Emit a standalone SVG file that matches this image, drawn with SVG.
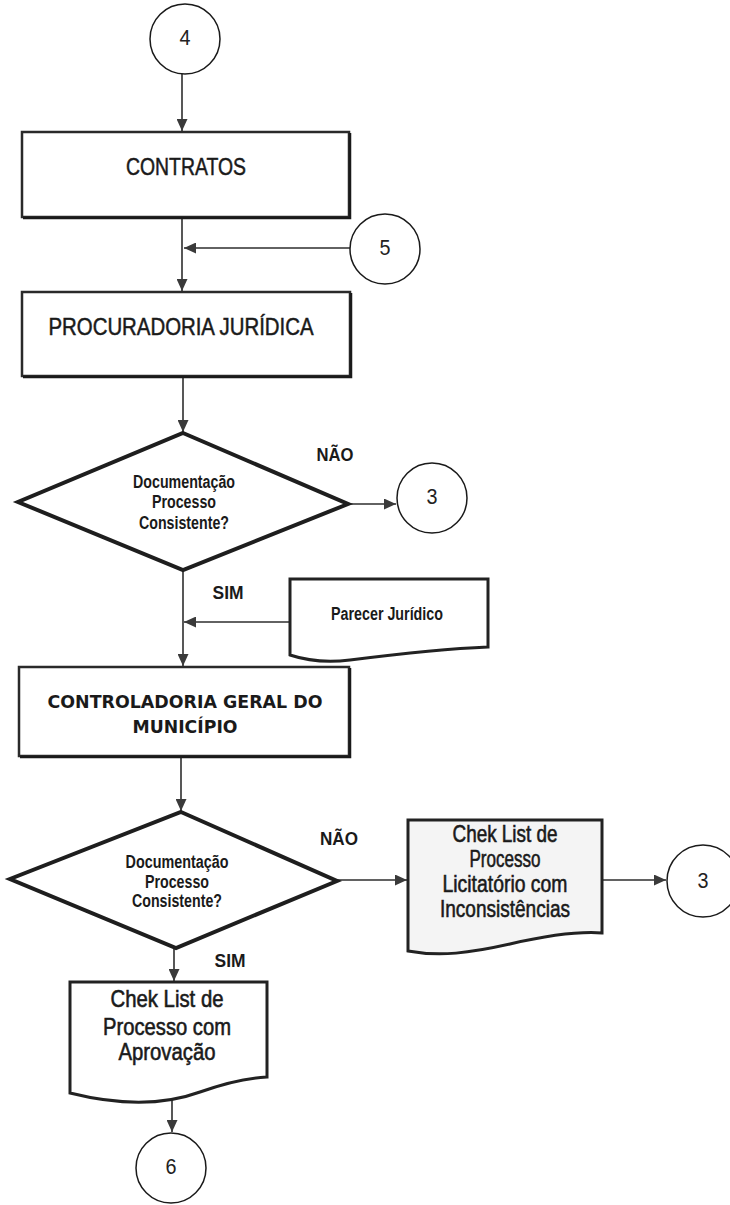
<svg xmlns="http://www.w3.org/2000/svg" width="730" height="1205" viewBox="0 0 730 1205">
  <defs>
    <marker id="arrow" markerUnits="userSpaceOnUse" markerWidth="13" markerHeight="11" refX="12" refY="5.5" orient="auto">
      <path d="M0,0 L12,5.5 L0,11 Z" fill="#3a3a3a"/>
    </marker>
    <style>
      .edge { fill: none; stroke: #2e2e2e; stroke-width: 1.6; marker-end: url(#arrow); }
      .box { fill: #ffffff; stroke: #2a2a2a; stroke-width: 2.5; }
      .shadow { fill: none; stroke: #1a1a1a; stroke-width: 2.5; }
      .doc { fill: #ffffff; stroke: #222222; stroke-width: 3; stroke-linejoin: miter; }
      .decision { fill: #ffffff; stroke: #1e1e1e; stroke-width: 4; stroke-linejoin: miter; }
      .conn { fill: #ffffff; stroke: #1a1a1a; stroke-width: 1.5; }
      .title { font-family: "Liberation Sans", Arial, sans-serif; font-size: 24px; fill: #1a1a1a; stroke: #1a1a1a; stroke-width: 0.5; text-anchor: middle; }
      .heavy { font-family: "DejaVu Sans", sans-serif; font-weight: bold; font-size: 17.4px; fill: #1a1a1a; text-anchor: middle; }
      .q { font-family: "Liberation Sans", Arial, sans-serif; font-weight: bold; font-size: 18px; fill: #1a1a1a; text-anchor: middle; }
      .docText { font-family: "Liberation Sans", Arial, sans-serif; font-size: 24px; fill: #1a1a1a; stroke: #1a1a1a; stroke-width: 0.6; text-anchor: middle; }
      .num { font-family: "Liberation Sans", Arial, sans-serif; font-size: 22px; fill: #222222; text-anchor: middle; }
    </style>
  </defs>

  <rect x="0" y="0" width="730" height="1205" fill="#ffffff"/>

  <!-- connectors -->
  <g id="connectors">
    <path class="edge" d="M182,74 L182,131"/>
    <path class="edge" d="M182,219 L182,291"/>
    <path class="edge" d="M350,248 L184,248"/>
    <path class="edge" d="M183,378 L183,432"/>
    <path class="edge" d="M348,504 L396,504"/>
    <path class="edge" d="M183,571 L183,666"/>
    <path class="edge" d="M290,622 L184,622"/>
    <path class="edge" d="M181,758 L181,811"/>
    <path class="edge" d="M337,880 L407,880"/>
    <path class="edge" d="M602,880 L666,880"/>
    <path class="edge" d="M174,949 L174,981"/>
    <path class="edge" d="M172,1098 L172,1132"/>
  </g>

  <!-- off-page connector 4 -->
  <g id="c4">
    <circle class="conn" cx="185" cy="39" r="35"/>
    <text class="num" x="185" y="45" textLength="11" lengthAdjust="spacingAndGlyphs">4</text>
  </g>

  <!-- CONTRATOS -->
  <g id="contratos">
    <rect class="box" x="22" y="132" width="327" height="85"/>
    <path class="shadow" d="M350,133 L350,218 L23,218"/>
    <text class="title" x="186" y="175" textLength="120" lengthAdjust="spacingAndGlyphs">CONTRATOS</text>
  </g>

  <!-- off-page connector 5 -->
  <g id="c5">
    <circle class="conn" cx="385" cy="249" r="35"/>
    <text class="num" x="385" y="255" textLength="11" lengthAdjust="spacingAndGlyphs">5</text>
  </g>

  <!-- PROCURADORIA JURÍDICA -->
  <g id="procuradoria">
    <rect class="box" x="22" y="292" width="328" height="84"/>
    <path class="shadow" d="M351,293 L351,377 L23,377"/>
    <text class="title" x="181" y="335" textLength="265" lengthAdjust="spacingAndGlyphs">PROCURADORIA JURÍDICA</text>
  </g>

  <!-- decision 1 -->
  <g id="decisao1">
    <polygon class="decision" points="183,433 348,504 183,570 18,502"/>
    <text class="q" x="184" y="488" textLength="102" lengthAdjust="spacingAndGlyphs">Documentação</text>
    <text class="q" x="184" y="508" textLength="64" lengthAdjust="spacingAndGlyphs">Processo</text>
    <text class="q" x="184" y="529" textLength="90" lengthAdjust="spacingAndGlyphs">Consistente?</text>
  </g>
  <text class="q" x="335" y="461" textLength="37" lengthAdjust="spacingAndGlyphs">NÃO</text>
  <text class="q" x="228" y="599" textLength="31" lengthAdjust="spacingAndGlyphs">SIM</text>

  <!-- off-page connector 3 -->
  <g id="c3a">
    <circle class="conn" cx="432" cy="498" r="35"/>
    <text class="num" x="432" y="504" textLength="11" lengthAdjust="spacingAndGlyphs">3</text>
  </g>

  <!-- Parecer Jurídico document -->
  <g id="parecer">
    <path class="doc" d="M290,579 L488,579 L488,647 C440,649 390,655 350,660 C325,663 305,660 290,655 Z"/>
    <text class="q" x="387" y="620" font-size="17" textLength="112" lengthAdjust="spacingAndGlyphs">Parecer Jurídico</text>
  </g>

  <!-- CONTROLADORIA GERAL DO MUNICÍPIO -->
  <g id="controladoria">
    <rect class="box" x="19" y="667" width="330" height="89"/>
    <path class="shadow" d="M350,668 L350,757 L20,757"/>
    <text class="heavy" x="185" y="708" textLength="275" lengthAdjust="spacingAndGlyphs">CONTROLADORIA GERAL DO</text>
    <text class="heavy" x="185" y="733" textLength="105" lengthAdjust="spacingAndGlyphs">MUNICÍPIO</text>
  </g>

  <!-- decision 2 -->
  <g id="decisao2">
    <polygon class="decision" points="181,812 337,881 176,948 10,879"/>
    <text class="q" x="177" y="868" textLength="103" lengthAdjust="spacingAndGlyphs">Documentação</text>
    <text class="q" x="177" y="888" textLength="64" lengthAdjust="spacingAndGlyphs">Processo</text>
    <text class="q" x="177" y="907" textLength="90" lengthAdjust="spacingAndGlyphs">Consistente?</text>
  </g>
  <text class="q" x="339" y="845" textLength="38" lengthAdjust="spacingAndGlyphs">NÃO</text>
  <text class="q" x="230" y="967" textLength="31" lengthAdjust="spacingAndGlyphs">SIM</text>

  <!-- checklist with inconsistencies -->
  <g id="checklist-inconsistencias">
    <path class="doc" style="fill:#f4f4f4" d="M408,820 L602,820 L602,933 C575,931 545,936 510,944 C470,953 440,957 408,951 Z"/>
    <text class="docText" x="505" y="842" textLength="105" lengthAdjust="spacingAndGlyphs">Chek List de</text>
    <text class="docText" x="505" y="867" textLength="71" lengthAdjust="spacingAndGlyphs">Processo</text>
    <text class="docText" x="505" y="892" textLength="125" lengthAdjust="spacingAndGlyphs">Licitatório com</text>
    <text class="docText" x="505" y="917" textLength="130" lengthAdjust="spacingAndGlyphs">Inconsistências</text>
  </g>

  <!-- off-page connector 3 (second) -->
  <g id="c3b">
    <circle class="conn" cx="703" cy="881" r="36"/>
    <text class="num" x="703" y="888" textLength="11" lengthAdjust="spacingAndGlyphs">3</text>
  </g>

  <!-- checklist with approval -->
  <g id="checklist-aprovacao">
    <path class="doc" d="M70,982 L267,982 L267,1077 C245,1078 225,1083 200,1092 C170,1103 130,1108 70,1093 Z"/>
    <text class="docText" x="167" y="1007" textLength="113" lengthAdjust="spacingAndGlyphs">Chek List de</text>
    <text class="docText" x="167" y="1035" textLength="128" lengthAdjust="spacingAndGlyphs">Processo com</text>
    <text class="docText" x="167" y="1060" textLength="97" lengthAdjust="spacingAndGlyphs">Aprovação</text>
  </g>

  <!-- off-page connector 6 -->
  <g id="c6">
    <circle class="conn" cx="171" cy="1168" r="35"/>
    <text class="num" x="171" y="1174" textLength="11" lengthAdjust="spacingAndGlyphs">6</text>
  </g>
</svg>
